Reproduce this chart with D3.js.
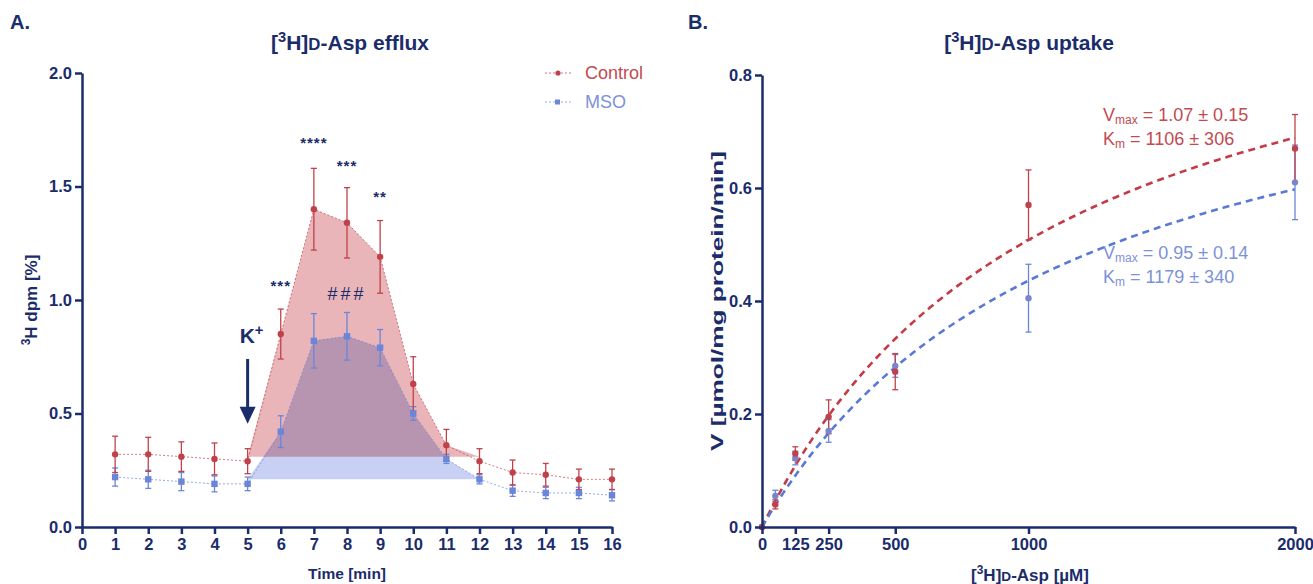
<!DOCTYPE html>
<html>
<head>
<meta charset="utf-8">
<script src="https://cdn.jsdelivr.net/npm/d3@7"></script>
<style>
  body { margin: 0; background: #fff; }
  svg { font-family: "Liberation Sans", Arial, sans-serif; }
  .axis path, .axis line { stroke: #1b2c6b; stroke-width: 2.5; }
  .axis text { fill: #1b2c6b; font-weight: bold; font-size: 16.5px; }
</style>
</head>
<body>
<script>
// Width and height
var w = 1313;
var h = 584;

var navy = "#1b2c6b";
var red = "#c1414b";
var blue = "#6b86d9";

// Data, panel A (efflux)
var times = [1, 2, 3, 4, 5, 6, 7, 8, 9, 10, 11, 12, 13, 14, 15, 16];
var ctrlEfflux = [0.32, 0.32, 0.31, 0.30, 0.29, 0.85, 1.40, 1.34, 1.19, 0.63, 0.36, 0.29, 0.24, 0.23, 0.21, 0.21];
var ctrlEffluxErr = [0.08, 0.075, 0.065, 0.07, 0.055, 0.11, 0.18, 0.155, 0.16, 0.12, 0.07, 0.055, 0.055, 0.05, 0.045, 0.045];
var msoEfflux = [0.22, 0.21, 0.20, 0.19, 0.19, 0.42, 0.82, 0.84, 0.79, 0.50, 0.30, 0.21, 0.16, 0.15, 0.15, 0.14];
var msoEffluxErr = [0.04, 0.04, 0.04, 0.035, 0.03, 0.07, 0.12, 0.105, 0.08, 0.03, 0.02, 0.02, 0.025, 0.025, 0.025, 0.025];
var ctrlBase = 0.31;
var msoBase = 0.21;
var areaStart = 5, areaEnd = 12;
var xTicksA = [0, 1, 2, 3, 4, 5, 6, 7, 8, 9, 10, 11, 12, 13, 14, 15, 16];
var yTicksA = [0, 0.5, 1.0, 1.5, 2.0];
var stars = [
  { t: 6, v: 1.04, label: "***" },
  { t: 7, v: 1.67, label: "****" },
  { t: 8, v: 1.57, label: "***" },
  { t: 9, v: 1.43, label: "**" }
];

// Data, panel B (uptake)
var conc = [0, 50, 125, 250, 500, 1000, 2000];
var ctrlUptake = [0, 0.04, 0.13, 0.195, 0.275, 0.57, 0.67];
var ctrlUptakeErr = [0, 0.008, 0.012, 0.03, 0.032, 0.062, 0.06];
var msoUptake = [0, 0.055, 0.122, 0.17, 0.285, 0.405, 0.61];
var msoUptakeErr = [0, 0.01, 0.012, 0.02, 0.02, 0.06, 0.066];
var xTicksB = [0, 125, 250, 500, 1000, 2000];
var yTicksB = [0, 0.2, 0.4, 0.6, 0.8];
var fitVmax = [1.07, 0.95];
var fitKm = [1106, 1179];

// Create SVG element
var svg = d3.select("body")
            .append("svg")
            .attr("width", w)
            .attr("height", h);

// label helper with superscript 3 and small caps D
function isoLabel(sel, rest) {
  sel.append("tspan").text("[");
  sel.append("tspan").attr("baseline-shift", "super").attr("font-size", "0.7em").text("3");
  sel.append("tspan").text("H]");
  sel.append("tspan").attr("font-size", "0.8em").text("D");
  sel.append("tspan").text(rest);
}

function errorBars(g, xs, ys, errs, x, y, color) {
  var cap = 3;
  xs.forEach(function(d, i) {
    if (!errs[i]) return;
    var top = y(ys[i] + errs[i]), bot = y(ys[i] - errs[i]), cx = x(d);
    g.append("line").attr("x1", cx).attr("x2", cx).attr("y1", top).attr("y2", bot)
      .attr("stroke", color).attr("stroke-width", 1.3);
    [top, bot].forEach(function(yy) {
      g.append("line").attr("x1", cx - cap).attr("x2", cx + cap).attr("y1", yy).attr("y2", yy)
        .attr("stroke", color).attr("stroke-width", 1.3);
    });
  });
}

function markers(g, xs, ys, x, y, color, square) {
  xs.forEach(function(d, i) {
    if (square) {
      g.append("rect").attr("x", x(d) - 3.2).attr("y", y(ys[i]) - 3.2)
        .attr("width", 6.4).attr("height", 6.4).attr("fill", color);
    } else {
      g.append("circle").attr("cx", x(d)).attr("cy", y(ys[i])).attr("r", 3.2).attr("fill", color);
    }
  });
}

// ---------------- Panel A ----------------
var xA = d3.scaleLinear().domain([0, 16]).range([82, 612]);
var yA = d3.scaleLinear().domain([0, 2]).range([527, 73]);

svg.append("text").attr("x", 10).attr("y", 29).attr("font-size", 20).attr("font-weight", "bold")
  .attr("fill", navy).text("A.");

svg.append("text").attr("x", 350).attr("y", 50).attr("text-anchor", "middle")
  .attr("font-size", 21).attr("font-weight", "bold").attr("fill", navy)
  .call(isoLabel, "-Asp efflux");

// area under curves, above baseline
function areaData(vals, base) {
  var out = [];
  times.forEach(function(t, i) {
    if (t >= areaStart && t <= areaEnd) out.push({ t: t, v: Math.max(vals[i], base) });
  });
  return out;
}
var areaRed = d3.area().x(function(d) { return xA(d.t); })
  .y0(yA(ctrlBase)).y1(function(d) { return yA(d.v); });
var areaBlue = d3.area().x(function(d) { return xA(d.t); })
  .y0(yA(msoBase)).y1(function(d) { return yA(d.v); });

var areas = svg.append("g").style("isolation", "isolate");
areas.append("path").attr("d", areaRed(areaData(ctrlEfflux, ctrlBase)))
  .attr("fill", "#e9b5b9");
areas.append("path").attr("d", areaBlue(areaData(msoEfflux, msoBase)))
  .attr("fill", "#c8d1f3").style("mix-blend-mode", "multiply");

// dotted connecting lines
var lineA = d3.line().x(function(d) { return xA(d[0]); }).y(function(d) { return yA(d[1]); });
svg.append("path").attr("d", lineA(d3.zip(times, ctrlEfflux))).attr("fill", "none")
  .attr("stroke", red).attr("stroke-width", 1).attr("stroke-dasharray", "2,2").attr("opacity", 0.7);
svg.append("path").attr("d", lineA(d3.zip(times, msoEfflux))).attr("fill", "none")
  .attr("stroke", blue).attr("stroke-width", 1).attr("stroke-dasharray", "2,2").attr("opacity", 0.7);

var gA = svg.append("g");
errorBars(gA, times, msoEfflux, msoEffluxErr, xA, yA, blue);
errorBars(gA, times, ctrlEfflux, ctrlEffluxErr, xA, yA, red);
markers(gA, times, msoEfflux, xA, yA, blue, true);
markers(gA, times, ctrlEfflux, xA, yA, red, false);

// axes
svg.append("g").attr("class", "axis").attr("transform", "translate(0," + yA(0) + ")")
  .call(d3.axisBottom(xA).tickValues(xTicksA).tickSize(7).tickSizeOuter(0).tickPadding(4));
svg.append("g").attr("class", "axis").attr("transform", "translate(" + xA(0) + ",0)")
  .call(d3.axisLeft(yA).tickValues(yTicksA).tickFormat(d3.format(".1f")).tickSize(7).tickSizeOuter(0).tickPadding(3));

svg.append("text").attr("x", 347).attr("y", 579).attr("text-anchor", "middle")
  .attr("font-size", 15.5).attr("font-weight", "bold").attr("fill", navy).text("Time [min]");

var ylabA = svg.append("text").attr("transform", "translate(37,300) rotate(-90)")
  .attr("text-anchor", "middle").attr("font-size", 17).attr("font-weight", "bold").attr("fill", navy);
ylabA.append("tspan").attr("baseline-shift", "super").attr("font-size", "0.7em").text("3");
ylabA.append("tspan").text("H dpm [%]");

// significance marks
stars.forEach(function(s) {
  svg.append("text").attr("x", xA(s.t)).attr("y", yA(s.v)).attr("text-anchor", "middle")
    .attr("font-size", 15).attr("letter-spacing", 1).attr("font-weight", "bold").attr("fill", navy).text(s.label);
});
svg.append("text").attr("x", xA(8)).attr("y", yA(1.0)).attr("text-anchor", "middle")
  .attr("font-size", 18).attr("letter-spacing", 3).attr("fill", navy).text("###");

// K+ arrow
var kx = xA(5);
var kt = svg.append("text").attr("x", kx - 8).attr("y", yA(0.81)).attr("font-size", 21)
  .attr("font-weight", "bold").attr("fill", navy);
kt.append("tspan").text("K");
kt.append("tspan").attr("baseline-shift", "super").attr("font-size", "0.7em").text("+");
svg.append("line").attr("x1", kx).attr("x2", kx).attr("y1", yA(0.74)).attr("y2", yA(0.52))
  .attr("stroke", navy).attr("stroke-width", 3);
svg.append("path")
  .attr("d", "M" + (kx - 8) + "," + yA(0.53) + "L" + (kx + 8) + "," + yA(0.53) + "L" + kx + "," + yA(0.455) + "Z")
  .attr("fill", navy);

// legend
var legend = [
  { name: "Control", color: red, y: 73, square: false, text: "#c24a52" },
  { name: "MSO", color: blue, y: 102, square: true, text: "#7d92d8" }
];
legend.forEach(function(l) {
  svg.append("line").attr("x1", 545).attr("x2", 571).attr("y1", l.y).attr("y2", l.y)
    .attr("stroke", l.color).attr("stroke-width", 1).attr("stroke-dasharray", "2,2").attr("opacity", 0.7);
  if (l.square) {
    svg.append("rect").attr("x", 555).attr("y", l.y - 2.5).attr("width", 5).attr("height", 5).attr("fill", l.color);
  } else {
    svg.append("circle").attr("cx", 558).attr("cy", l.y).attr("r", 2.6).attr("fill", l.color);
  }
  svg.append("text").attr("x", 585).attr("y", l.y + 6).attr("font-size", 18).attr("fill", l.text).text(l.name);
});

// ---------------- Panel B ----------------
var xB = d3.scaleLinear().domain([0, 2000]).range([762, 1295]);
var yB = d3.scaleLinear().domain([0, 0.8]).range([527, 75]);

svg.append("text").attr("x", 688).attr("y", 29).attr("font-size", 20).attr("font-weight", "bold")
  .attr("fill", navy).text("B.");

svg.append("text").attr("x", 1029).attr("y", 50).attr("text-anchor", "middle")
  .attr("font-size", 21).attr("font-weight", "bold").attr("fill", navy)
  .call(isoLabel, "-Asp uptake");

// Michaelis-Menten fit curves from the fitted Vmax / Km
var fitColors = ["#c43a45", "#5a79d6"];
var curveX = d3.range(0, 2001, 10);
fitVmax.forEach(function(vm, k) {
  var line = d3.line().x(function(s) { return xB(s); })
    .y(function(s) { return yB(vm * s / (fitKm[k] + s)); });
  svg.append("path").attr("d", line(curveX)).attr("fill", "none")
    .attr("stroke", fitColors[k]).attr("stroke-width", 2.6).attr("stroke-dasharray", "7,5");
});

var gB = svg.append("g");
errorBars(gB, conc, msoUptake, msoUptakeErr, xB, yB, blue);
errorBars(gB, conc, ctrlUptake, ctrlUptakeErr, xB, yB, red);
markers(gB, conc, msoUptake, xB, yB, "#7a86c9", false);
markers(gB, conc, ctrlUptake, xB, yB, red, false);

svg.append("g").attr("class", "axis").attr("transform", "translate(0," + yB(0) + ")")
  .call(d3.axisBottom(xB).tickValues(xTicksB).tickFormat(d3.format("d")).tickSize(7).tickSizeOuter(0).tickPadding(4));
svg.append("g").attr("class", "axis").attr("transform", "translate(" + xB(0) + ",0)")
  .call(d3.axisLeft(yB).tickValues(yTicksB).tickFormat(d3.format(".1f")).tickSize(7).tickSizeOuter(0).tickPadding(3));

svg.append("text").attr("x", 1030).attr("y", 581).attr("text-anchor", "middle")
  .attr("font-size", 17).attr("font-weight", "bold").attr("fill", navy)
  .call(isoLabel, "-Asp [µM]");

svg.append("text").attr("transform", "translate(723,301) rotate(-90)")
  .attr("text-anchor", "middle").attr("font-size", 17).attr("font-weight", "bold").attr("fill", navy)
  .attr("textLength", 300).attr("lengthAdjust", "spacingAndGlyphs")
  .text("V [µmol/mg protein/min]");

// fit parameter labels
var fitLabels = [
  { v: "1.07 ± 0.15", k: "1106 ± 306", y: 121, color: "#c24a52" },
  { v: "0.95 ± 0.14", k: "1179 ± 340", y: 259, color: "#7d92d8" }
];
fitLabels.forEach(function(f) {
  var t1 = svg.append("text").attr("x", 1103).attr("y", f.y).attr("font-size", 18).attr("fill", f.color);
  t1.append("tspan").text("V");
  t1.append("tspan").attr("dy", 3).attr("font-size", 12).text("max");
  t1.append("tspan").attr("dy", -3).text(" = " + f.v);
  var t2 = svg.append("text").attr("x", 1103).attr("y", f.y + 24).attr("font-size", 18).attr("fill", f.color);
  t2.append("tspan").text("K");
  t2.append("tspan").attr("dy", 3).attr("font-size", 12).text("m");
  t2.append("tspan").attr("dy", -3).text(" = " + f.k);
});
</script>
</body>
</html>
